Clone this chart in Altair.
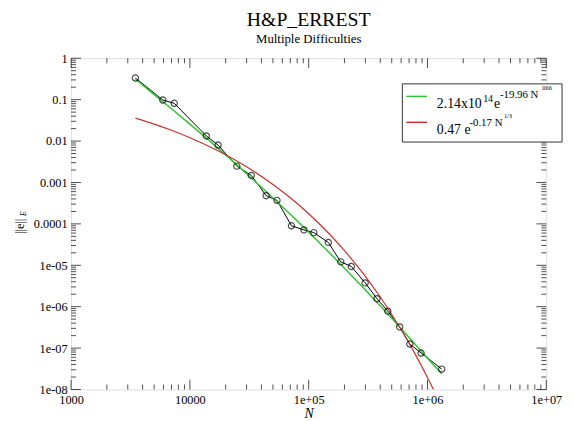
import altair as alt
import pandas as pd

# ---- data ----
N_data = [3480, 5920, 7390, 13750, 17280, 24830, 32880, 43850, 54080, 71620,
          91240, 110400, 146200, 186200, 228500, 298600, 375800, 463500,
          583400, 710000, 883000, 1318000]
err_data = [0.333, 0.098, 0.0815, 0.0133, 0.0080, 0.00248, 0.00148, 4.79e-4,
            3.70e-4, 9.0e-5, 7.13e-5, 6.15e-5, 3.56e-5, 1.21e-5, 9.36e-6,
            3.75e-6, 1.56e-6, 7.79e-7, 3.24e-7, 1.25e-7, 7.6e-8, 3.11e-8]

N_green = [3480, 5000, 7000, 10000, 15000, 20000, 30000, 50000, 70000, 100000,
           150000, 200000, 300000, 500000, 700000, 1000000, 1318000]
err_green = [0.315, 0.1325, 0.0603, 0.0257, 0.00952, 0.00464, 0.00163, 4.23e-4,
             1.70e-4, 6.27e-5, 1.97e-5, 8.49e-6, 2.53e-6, 5.25e-7, 1.81e-7,
             5.69e-8, 2.4e-8]

N_red = [3480, 5000, 7000, 10000, 15000, 20000, 30000, 50000, 70000, 100000,
         150000, 200000, 300000, 400000, 500000, 700000, 800000, 1000000, 1200000]
err_red = [0.0358, 0.0257, 0.0182, 0.01206, 0.0071, 0.00466, 0.00239, 8.96e-4,
           4.26e-4, 1.76e-4, 5.61e-5, 2.26e-5, 5.37e-6, 1.71e-6, 6.49e-7,
           1.31e-7, 6.58e-8, 1.95e-8, 6.7e-9]

x_major = [1e3, 1e4, 1e5, 1e6, 1e7]
x_labels = ["1000", "10000", "1e+05", "1e+06", "1e+07"]
y_major = [1, 1e-1, 1e-2, 1e-3, 1e-4, 1e-5, 1e-6, 1e-7, 1e-8]
y_labels = ["1", "0.1", "0.01", "0.001", "0.0001", "1e-05", "1e-06", "1e-07", "1e-08"]
minor_mult = [2, 3, 4, 5, 6, 7, 8, 9]
x_minor = [m * d for d in x_major[:-1] for m in minor_mult]
y_minor = [m * d for d in y_major[1:] for m in minor_mult]

SERIF = "Liberation Serif"
GREEN = "#2fc42f"
RED = "#c83232"


def label_expr(values, labels):
    expr = "''"
    for v, s in zip(reversed(values), reversed(labels)):
        expr = f"abs(log(datum.value) - log({v!r})) < 0.01 ? '{s}' : ({expr})"
    return expr


xs = alt.Scale(type="log", domain=[1000, 1e7], nice=False)
ys = alt.Scale(type="log", domain=[1e-8, 1], nice=False)

df_data = pd.DataFrame({"N": N_data, "e": err_data})
df_green = pd.DataFrame({"N": N_green, "e": err_green})
df_red = pd.DataFrame({"N": N_red, "e": err_red})

x_axis = alt.Axis(values=x_major, labelExpr=label_expr(x_major, x_labels),
                  ticks=False, domain=False, grid=False, labelFont=SERIF, labelFontSize=12.5,
                  labelColor="black", labelPadding=4, labelFlush=False, labelOverlap=False,
                  title="N", titleFont=SERIF, titleFontStyle="italic", titleFontWeight="normal",
                  titleFontSize=14, titleColor="black", titlePadding=1)
y_axis = alt.Axis(values=y_major, labelExpr=label_expr(y_major, y_labels),
                  ticks=False, domain=False, grid=False, labelFont=SERIF, labelFontSize=12.5,
                  labelColor="black", labelPadding=4, labelFlush=False, labelOverlap=False,
                  title="")

data_line = alt.Chart(df_data).mark_line(color="black", strokeWidth=1).encode(
    x=alt.X("N:Q", scale=xs, axis=x_axis),
    y=alt.Y("e:Q", scale=ys, axis=y_axis),
)
green_line = alt.Chart(df_green).mark_line(color=GREEN, strokeWidth=1.5, interpolate="monotone").encode(
    x=alt.X("N:Q", scale=xs),
    y=alt.Y("e:Q", scale=ys),
)
red_line = alt.Chart(df_red).mark_line(color=RED, strokeWidth=1.2, interpolate="monotone", clip=True).encode(
    x=alt.X("N:Q", scale=xs),
    y=alt.Y("e:Q", scale=ys),
)
points = alt.Chart(df_data).mark_point(shape="circle", filled=False, color="black", size=40,
                                       strokeWidth=1.2).encode(
    x=alt.X("N:Q", scale=xs),
    y=alt.Y("e:Q", scale=ys),
)


def xticks(vals, size, top):
    return alt.Chart(pd.DataFrame({"v": vals})).mark_tick(
        orient="vertical", size=size, thickness=1, color="black",
        yOffset=(size / 2 if top else -size / 2)).encode(
        x=alt.X("v:Q", scale=xs),
        y=alt.YDatum(1.0 if top else 1e-8, scale=ys, type="quantitative"),
    )


def yticks(vals, size, left):
    return alt.Chart(pd.DataFrame({"v": vals})).mark_tick(
        orient="horizontal", size=size, thickness=1, color="black",
        xOffset=(size / 2 if left else -size / 2)).encode(
        y=alt.Y("v:Q", scale=ys),
        x=alt.XDatum(1000.0 if left else 1e7, scale=xs, type="quantitative"),
    )


tick_layers = [
    xticks(x_major, 10, True), xticks(x_major, 10, False),
    xticks(x_minor, 5, True), xticks(x_minor, 5, False),
    yticks(y_major, 10, True), yticks(y_major, 10, False),
    yticks(y_minor, 5, True), yticks(y_minor, 5, False),
]

dummy = pd.DataFrame({"k": [0]})


def txt(s, x, y, size, angle=0, style="normal", align="left", baseline="alphabetic"):
    return alt.Chart(dummy).mark_text(text=s, font=SERIF, fontSize=size, color="black",
                                      align=align, baseline=baseline, angle=angle,
                                      fontStyle=style).encode(
        x=alt.value(x), y=alt.value(y))


def seg(x1, x2, y, color):
    return alt.Chart(dummy).mark_rule(color=color, strokeWidth=1.5).encode(
        x=alt.value(x1), x2=alt.value(x2), y=alt.value(y))


legend_box = alt.Chart(dummy).mark_rect(fill="white", stroke="#333333", strokeWidth=1).encode(
    x=alt.value(336), x2=alt.value(498), y=alt.value(26), y2=alt.value(85))

legend = [
    legend_box,
    seg(340, 361, 38.7, GREEN),
    seg(340, 361, 65, RED),
    txt("2.14x10", 371, 50, 14),
    txt("14", 418, 44, 10),
    txt("e", 429, 50, 14),
    txt("-19.96 N", 435, 40, 11),
    txt("066", 478, 32, 6.5),
    txt("0.47 e", 371, 77, 14),
    txt("-0.17 N", 404, 69, 11),
    txt("1/3", 439, 61, 6.5),
]

ytitle = [
    txt("||e||", -52, 170.5, 12.5, angle=270, align="center", baseline="middle"),
    txt("E", -47.5, 157.5, 8, angle=270, style="italic", align="center", baseline="middle"),
]

chart = alt.layer(
    data_line, green_line, red_line, points, *tick_layers, *legend, *ytitle
).properties(
    width=482, height=336,
    padding={"left": 64, "top": 48, "right": 20, "bottom": 29},
    autosize=alt.AutoSizeParams(type="none"),
    title=alt.TitleParams("H&P_ERREST", subtitle="Multiple Difficulties", font=SERIF,
                          fontSize=20, fontWeight="normal", color="black",
                          subtitleFont=SERIF, subtitleFontSize=13, subtitleColor="black",
                          subtitlePadding=4, anchor="middle", frame="group", offset=6),
).configure_view(stroke="black", strokeWidth=1.5).configure(background="white")

chart.save("out.html", embed_options={"renderer": "svg", "actions": False})
